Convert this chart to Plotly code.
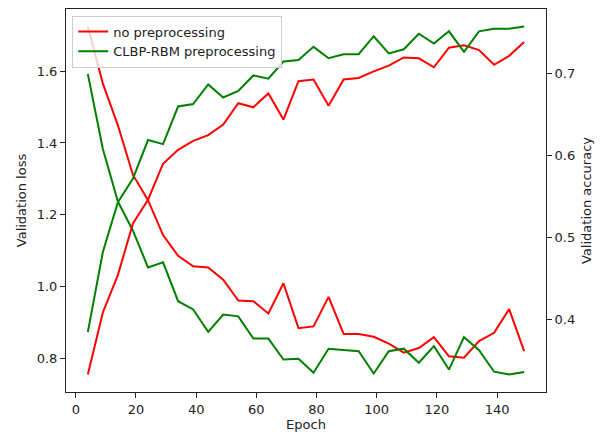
import plotly.graph_objects as go

epochs = [4, 9, 14, 19, 24, 29, 34, 39, 44, 49, 54, 59, 64, 69, 74,
          79, 84, 89, 94, 99, 104, 109, 114, 119, 124, 129, 134, 139, 144, 149]

loss_no = [1.724, 1.565, 1.449, 1.311, 1.241, 1.144, 1.086, 1.057, 1.054, 1.020,
           0.962, 0.960, 0.926, 1.010, 0.885, 0.890, 0.972, 0.869, 0.869, 0.861,
           0.842, 0.817, 0.830, 0.860, 0.807, 0.803, 0.849, 0.872, 0.938, 0.821]
loss_clbp = [1.592, 1.383, 1.237, 1.156, 1.054, 1.068, 0.960, 0.937, 0.875, 0.923,
             0.918, 0.856, 0.856, 0.798, 0.800, 0.761, 0.828, 0.824, 0.821, 0.759,
             0.821, 0.828, 0.789, 0.835, 0.770, 0.860, 0.824, 0.764, 0.756, 0.763]
acc_no = [0.332, 0.408, 0.454, 0.517, 0.546, 0.590, 0.607, 0.618, 0.625, 0.638,
          0.664, 0.659, 0.676, 0.644, 0.691, 0.693, 0.661, 0.693, 0.695, 0.703,
          0.710, 0.720, 0.719, 0.708, 0.732, 0.735, 0.729, 0.711, 0.722, 0.739]
acc_clbp = [0.384, 0.482, 0.543, 0.572, 0.619, 0.614, 0.660, 0.663, 0.687, 0.671,
            0.679, 0.698, 0.694, 0.715, 0.717, 0.733, 0.719, 0.724, 0.724, 0.746,
            0.725, 0.730, 0.749, 0.737, 0.752, 0.727, 0.752, 0.755, 0.755, 0.758]

x_ticks = [0, 20, 40, 60, 80, 100, 120, 140]
loss_ticks = [0.8, 1.0, 1.2, 1.4, 1.6]
acc_ticks = [0.4, 0.5, 0.6, 0.7]

names = ["no preprocessing", "CLBP-RBM preprocessing"]
RED = "#ff0000"
GREEN = "#008000"
FS = 13


def mpl_range(*series):
    vals = [v for s in series for v in s]
    lo, hi = min(vals), max(vals)
    pad = 0.05 * (hi - lo)
    return [lo - pad, hi + pad]


fig = go.Figure()
fig.add_trace(go.Scatter(x=epochs, y=loss_no, mode="lines", name=names[0],
                         line=dict(color=RED, width=2), legendgroup="a"))
fig.add_trace(go.Scatter(x=epochs, y=loss_clbp, mode="lines", name=names[1],
                         line=dict(color=GREEN, width=2), legendgroup="b"))
fig.add_trace(go.Scatter(x=epochs, y=acc_no, mode="lines", name=names[0],
                         line=dict(color=RED, width=2), legendgroup="a",
                         showlegend=False, yaxis="y2"))
fig.add_trace(go.Scatter(x=epochs, y=acc_clbp, mode="lines", name=names[1],
                         line=dict(color=GREEN, width=2), legendgroup="b",
                         showlegend=False, yaxis="y2"))

axis_common = dict(showgrid=False, zeroline=False, showline=True,
                   linecolor="#222", linewidth=1, ticks="outside",
                   ticklen=5, tickwidth=1, tickcolor="#222",
                   tickfont=dict(size=FS, color="#222"))

fig.update_layout(
    width=605, height=437,
    margin=dict(l=66, r=59, t=8, b=44),
    paper_bgcolor="white", plot_bgcolor="white",
    font=dict(family="DejaVu Sans", size=FS, color="#222"),
    xaxis=dict(range=mpl_range(epochs), tickvals=x_ticks, mirror=True,
               title=dict(text="Epoch", standoff=3, font=dict(size=FS)),
               **axis_common),
    yaxis=dict(range=mpl_range(loss_no, loss_clbp), tickvals=loss_ticks,
               tickformat=".1f",
               title=dict(text="Validation loss", standoff=7, font=dict(size=FS)),
               **axis_common),
    yaxis2=dict(range=mpl_range(acc_no, acc_clbp), tickvals=acc_ticks,
                tickformat=".1f", overlaying="y", side="right",
                title=dict(text="Validation accuracy", standoff=7, font=dict(size=FS)),
                **axis_common),
    legend=dict(x=0.013, y=0.983, xanchor="left", yanchor="top",
                bgcolor="rgba(255,255,255,0.8)", bordercolor="#cccccc",
                borderwidth=1, font=dict(size=FS), tracegroupgap=0,
                itemwidth=30),
    showlegend=True,
)

fig.write_html("out.html")
